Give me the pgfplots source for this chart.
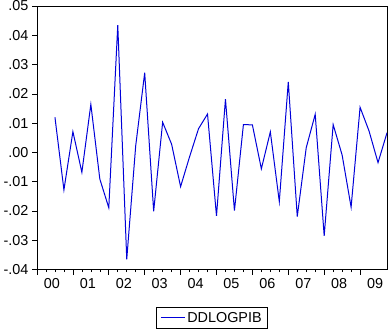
\documentclass[border=0pt]{standalone}
\usepackage{fontspec}
\setmainfont{Liberation Sans}
\usepackage{pgfplots}
\pgfplotsset{compat=1.18}
\begin{document}
\begin{tikzpicture}
\begin{axis}[
  scale only axis,
  width=350pt, height=263.5pt,
  at={(37pt,-269.5pt)}, anchor=south west,
  xmin=2000, xmax=2009.75,
  ymin=-0.04, ymax=0.05,
  xtick={2000,2001,2002,2003,2004,2005,2006,2007,2008,2009},
  xticklabels={00,01,02,03,04,05,06,07,08,09},
  xticklabel style={xshift=15pt},
  minor x tick num=3,
  ytick={-0.04,-0.03,-0.02,-0.01,0,0.01,0.02,0.03,0.04,0.05},
  yticklabels={-.04,-.03,-.02,-.01,.00,.01,.02,.03,.04,.05},
  xtick pos=bottom, ytick pos=left,
  tick align=outside,
  major tick length=5pt, minor tick length=2.5pt,
  tick style={black, line width=0.6pt},
  axis line style={black, line width=0.8pt},
  tick label style={font=\fontsize{14.4}{16}\selectfont, text=black},
  scaled y ticks=false,
  legend style={at={(0.5,-0.141)}, anchor=north, draw=black, line width=0.6pt,
    font=\fontsize{14.4}{16}\selectfont, inner xsep=4pt, inner ysep=3pt},
  legend cell align=left,
  legend image code/.code={\draw[#1, line width=1pt] (0pt,0pt) -- (24pt,0pt);},
]
\addplot[color=blue!85!black, line width=1pt, mark=none] coordinates {
(2000.50,0.0120) (2000.75,-0.0128)
(2001.00,0.0071) (2001.25,-0.0068) (2001.50,0.0164) (2001.75,-0.0091)
(2002.00,-0.0189) (2002.25,0.0435) (2002.50,-0.0365) (2002.75,0.0023)
(2003.00,0.0272) (2003.25,-0.0201) (2003.50,0.0103) (2003.75,0.0028)
(2004.00,-0.0117) (2004.25,-0.0015) (2004.50,0.0081) (2004.75,0.0131)
(2005.00,-0.0217) (2005.25,0.0182) (2005.50,-0.0199) (2005.75,0.0095)
(2006.00,0.0094) (2006.25,-0.0056) (2006.50,0.0070) (2006.75,-0.0168)
(2007.00,0.0241) (2007.25,-0.0219) (2007.50,0.0016) (2007.75,0.0130)
(2008.00,-0.0285) (2008.25,0.0095) (2008.50,-0.0009) (2008.75,-0.0187)
(2009.00,0.0154) (2009.25,0.0073) (2009.50,-0.0035) (2009.75,0.0067)
};
\addlegendentry{DDLOGPIB}
\end{axis}
\pgfresetboundingbox
\useasboundingbox (0,0) rectangle (389pt,-330pt);
\end{tikzpicture}
\end{document}
